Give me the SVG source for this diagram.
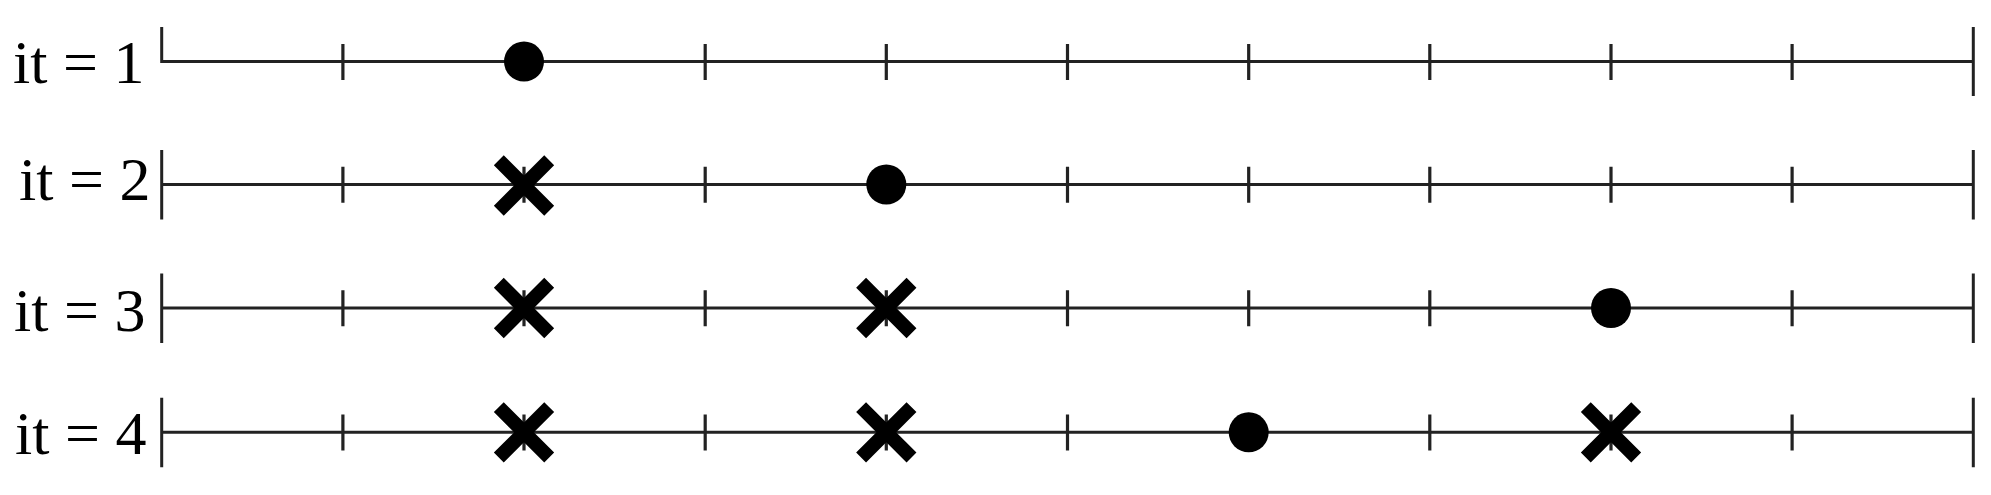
<svg xmlns="http://www.w3.org/2000/svg" xmlns:xlink="http://www.w3.org/1999/xlink" width="1991" height="495" viewBox="0 0 1991 495">
  <style>
    .axis { stroke: #222; stroke-width: 3; fill: none; }
    .tick { stroke: #222; stroke-width: 3.2; fill: none; }
    .lbl { font-family: "Liberation Serif", "Times New Roman", serif; font-size: 62px; fill: #000; }
  </style>
  <defs>
    <g id="cross">
      <path d="M-25.2,-25.2 L25.2,25.2 M-25.2,25.2 L25.2,-25.2" stroke="#000" stroke-width="14" stroke-linecap="butt" fill="none"/>
    </g>
    <g id="dot">
      <circle cx="0" cy="0" r="20" fill="#000"/>
    </g>
    <g id="ticks">
      <path class="tick" d="M342.9,-17.7V18.3 M524,-17.7V18.3 M705.2,-17.7V18.3 M886.3,-17.7V18.3 M1067.5,-17.7V18.3 M1248.7,-17.7V18.3 M1429.8,-17.7V18.3 M1611,-17.7V18.3 M1792.1,-17.7V18.3"/>
    </g>
  </defs>

  <rect width="1991" height="495" fill="#fff"/>

  <g id="row1" transform="translate(0,61.6)">
    <text class="lbl" x="13" y="21.7">it = 1</text>
    <path class="axis" d="M161.7,-34.5V0H1973.3 M1973.3,-34.5V34.5"/>
    <use xlink:href="#ticks"/>
    <use xlink:href="#dot" x="524" y="0"/>
  </g>

  <g id="row2" transform="translate(0,184.5)">
    <text class="lbl" x="19" y="15.5">it = 2</text>
    <path class="axis" d="M161.7,-34.5V35 M161.7,0H1973.3 M1973.3,-34.5V35"/>
    <use xlink:href="#ticks"/>
    <use xlink:href="#cross" x="524" y="1"/>
    <use xlink:href="#dot" x="886.3" y="0"/>
  </g>

  <g id="row3" transform="translate(0,308)">
    <text class="lbl" x="14" y="22.7">it = 3</text>
    <path class="axis" d="M161.7,-34.5V35 M161.7,0H1973.3 M1973.3,-34.5V35"/>
    <use xlink:href="#ticks"/>
    <use xlink:href="#cross" x="524" y="0"/>
    <use xlink:href="#cross" x="886.3" y="0"/>
    <use xlink:href="#dot" x="1611" y="0"/>
  </g>

  <g id="row4" transform="translate(0,432.3)">
    <text class="lbl" x="15" y="22">it = 4</text>
    <path class="axis" d="M161.7,-34.5V35 M161.7,0H1973.3 M1973.3,-34.5V35"/>
    <use xlink:href="#ticks"/>
    <use xlink:href="#cross" x="524" y="0"/>
    <use xlink:href="#cross" x="886.3" y="0"/>
    <use xlink:href="#dot" x="1248.7" y="0"/>
    <use xlink:href="#cross" x="1611" y="0"/>
  </g>

  <g id="connectors"/>
</svg>
